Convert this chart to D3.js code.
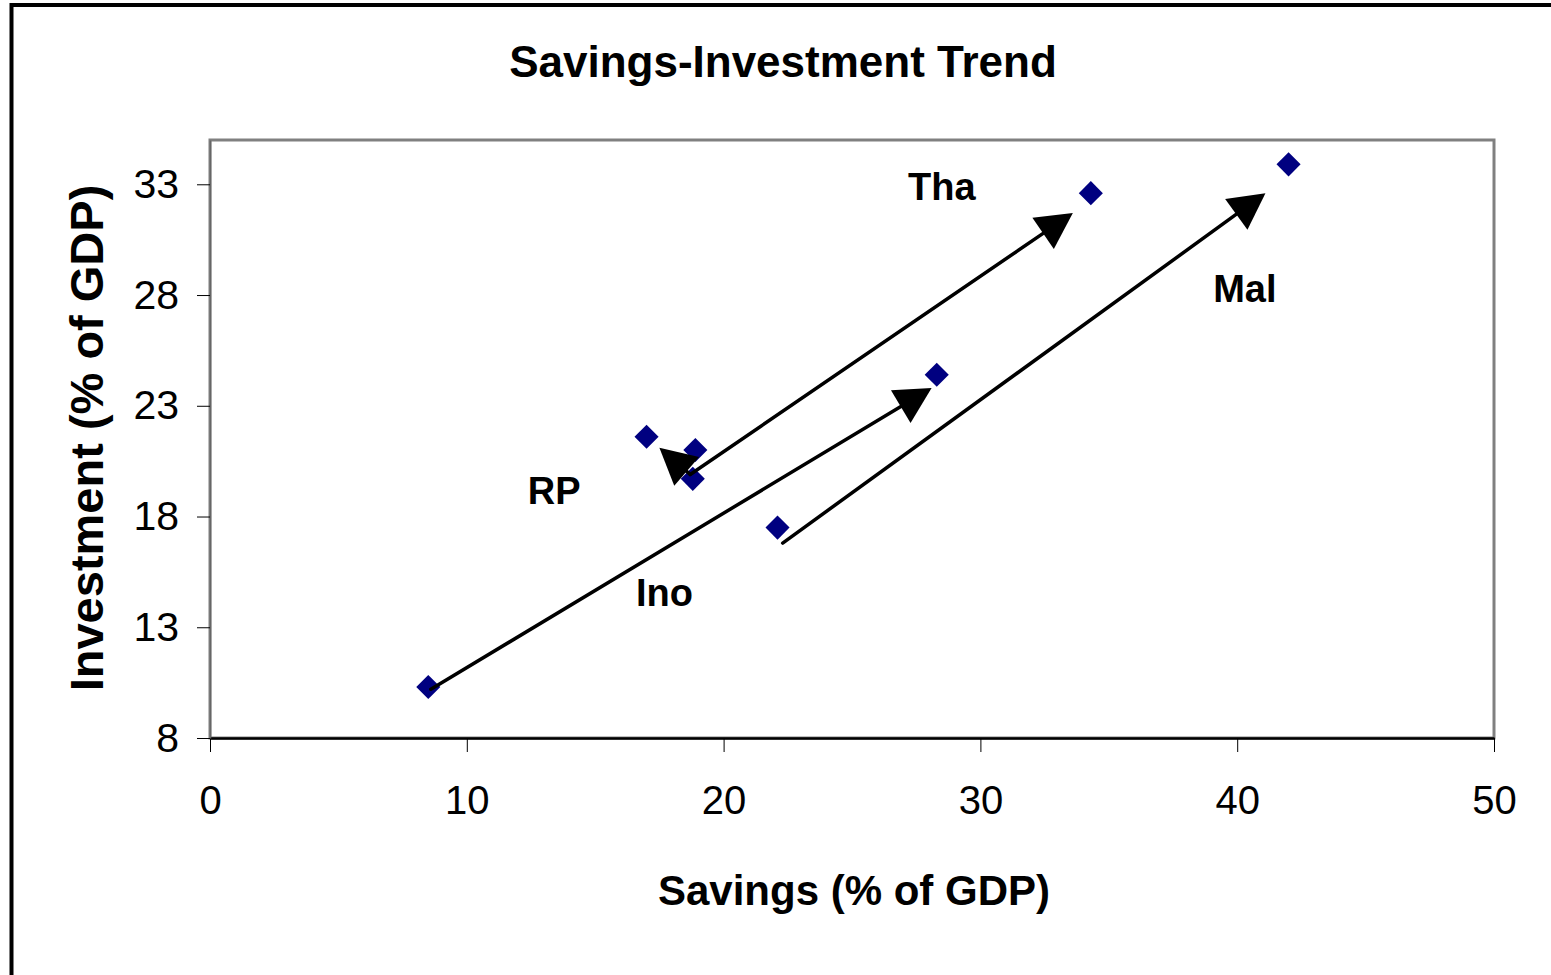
<!DOCTYPE html>
<html>
<head>
<meta charset="utf-8">
<script src="https://cdn.jsdelivr.net/npm/d3@7"></script>
<style>
  body { margin: 0; background: #fff; }
  text { font-family: Arial, "Liberation Sans", sans-serif; }
</style>
</head>
<body>
<svg width="1551" height="975"></svg>
<script>
// savings / investment points (% of GDP)
var savings    = [8.5, 28.3, 17.0, 18.8, 18.9, 34.3, 22.1, 42.0];
var investment = [10.3, 24.4, 21.6, 19.7, 21.0, 32.6, 17.5, 33.9];

// trend arrows, start -> end in data units
var arrowNames = ["Ino", "Tha", "Mal", "RP"];
var arrowFrom  = [[8.6, 10.2], [18.7, 19.9], [22.3, 16.8], [18.7, 19.9]];
var arrowTo    = [[28.1, 23.8], [33.6, 31.7], [41.1, 32.6], [17.5, 21.1]];

// country labels
var labelNames = ["Tha", "Mal", "RP", "Ino"];
var labelX     = [28.5, 40.3, 13.4, 17.7];
var labelY     = [32.9, 28.3, 19.2, 14.6];

var xTicks = [0, 10, 20, 30, 40, 50];
var yTicks = [8, 13, 18, 23, 28, 33];

var svg = d3.select("svg");

// plot box (note: "top" clashes with window.top, so prefix these)
var plotLeft = 210, plotRight = 1494, plotTop = 140, plotBottom = 738;

var x = d3.scaleLinear().domain([0, 50]).range([plotLeft, plotRight]);
var y = d3.scaleLinear().domain([8, 35]).range([plotBottom, plotTop]);

// outer chart frame (runs off the right and bottom edges)
svg.append("rect")
    .attr("x", 11.5).attr("y", 5)
    .attr("width", 1600).attr("height", 1100)
    .attr("fill", "#fff")
    .attr("stroke", "#000")
    .attr("stroke-width", 4);

svg.append("text")
    .attr("x", 783).attr("y", 77)
    .attr("text-anchor", "middle")
    .attr("font-size", 44)
    .attr("font-weight", "bold")
    .text("Savings-Investment Trend");

// plot area
svg.append("rect")
    .attr("x", plotLeft).attr("y", plotTop)
    .attr("width", plotRight - plotLeft).attr("height", plotBottom - plotTop)
    .attr("fill", "#fff")
    .attr("stroke", "#808080")
    .attr("stroke-width", 3);

var xAxis = svg.append("g")
    .attr("transform", "translate(0," + plotBottom + ")")
    .call(d3.axisBottom(x).tickValues(xTicks).tickSize(14).tickSizeOuter(0).tickPadding(34));
xAxis.select(".domain").attr("stroke", "#000").attr("stroke-width", 2.5);
xAxis.selectAll(".tick line").attr("stroke", "#000");
xAxis.selectAll("text")
    .attr("font-size", 40)
    .attr("fill", "#000")
    .attr("font-family", "Arial, 'Liberation Sans', sans-serif");

var yAxis = svg.append("g")
    .attr("transform", "translate(" + plotLeft + ",0)")
    .call(d3.axisLeft(y).tickValues(yTicks).tickSize(13).tickSizeOuter(0).tickPadding(18));
yAxis.select(".domain").attr("stroke", "#666").attr("stroke-width", 1.5);
yAxis.selectAll(".tick line").attr("stroke", "#000");
yAxis.selectAll("text")
    .attr("font-size", 41)
    .attr("fill", "#000")
    .attr("font-family", "Arial, 'Liberation Sans', sans-serif");

// axis titles
svg.append("text")
    .attr("x", 854).attr("y", 905)
    .attr("text-anchor", "middle")
    .attr("font-size", 42)
    .attr("font-weight", "bold")
    .text("Savings (% of GDP)");

svg.append("text")
    .attr("transform", "translate(103,438) rotate(-90)")
    .attr("text-anchor", "middle")
    .attr("font-size", 47)
    .attr("font-weight", "bold")
    .text("Investment (% of GDP)");

// points
var pts = savings.map(function(s, i) { return [s, investment[i]]; });

svg.append("g").selectAll("path")
    .data(pts)
    .enter().append("path")
      .attr("d", d3.symbol().type(d3.symbolSquare).size(290))
      .attr("transform", function(d) { return "translate(" + x(d[0]) + "," + y(d[1]) + ") rotate(45)"; })
      .attr("fill", "#000080");

// arrows
var arrows = arrowNames.map(function(n, i) { return { name: n, from: arrowFrom[i], to: arrowTo[i] }; });

var ag = svg.append("g");
arrows.forEach(function(a) {
    var x0 = x(a.from[0]), y0 = y(a.from[1]),
        x1 = x(a.to[0]), y1 = y(a.to[1]);
    var dx = x1 - x0, dy = y1 - y0, len = Math.sqrt(dx * dx + dy * dy);
    var ux = dx / len, uy = dy / len, px = -uy, py = ux;
    var L = 36, W = 19;
    var bx = x1 - ux * L, by = y1 - uy * L;

    ag.append("line")
        .attr("x1", x0).attr("y1", y0)
        .attr("x2", bx + ux * 4).attr("y2", by + uy * 4)
        .attr("stroke", "#000")
        .attr("stroke-width", 3.5)
        .attr("stroke-linecap", "round");

    ag.append("path")
        .attr("d", "M" + x1 + "," + y1 +
                   "L" + (bx + px * W) + "," + (by + py * W) +
                   "L" + (bx - px * W) + "," + (by - py * W) + "Z")
        .attr("fill", "#000");
});

// labels
svg.append("g").selectAll("text")
    .data(labelNames)
    .enter().append("text")
      .attr("x", function(d, i) { return x(labelX[i]); })
      .attr("y", function(d, i) { return y(labelY[i]); })
      .attr("dy", "0.36em")
      .attr("text-anchor", "middle")
      .attr("font-size", 38)
      .attr("font-weight", "bold")
      .text(function(d) { return d; });
</script>
</body>
</html>
